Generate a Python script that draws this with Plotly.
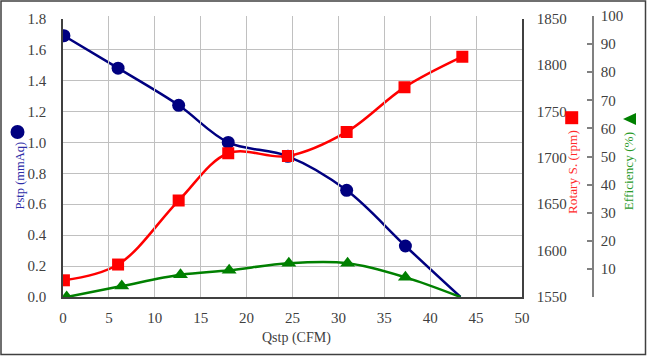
import plotly.graph_objects as go

# ---- data ----
q_pstp = [0.1, 6.0, 12.6, 18.0, 24.5, 30.9, 37.3, 43.3]
pstp = [1.69, 1.48, 1.24, 1.00, 0.91, 0.69, 0.33, 0.0]

q_rpm = [0.1, 6.0, 12.6, 18.0, 24.5, 30.9, 37.2, 43.5]
rpm = [1568, 1585, 1654, 1705, 1702, 1728, 1776, 1809]

q_eff = [0.4, 6.4, 12.8, 18.1, 24.6, 31.0, 37.3, 43.3]
eff = [0.0, 3.9, 7.9, 9.5, 12.0, 12.0, 7.0, 0.0]

x_ticks = [0, 5, 10, 15, 20, 25, 30, 35, 40, 45, 50]
pstp_ticks = [0.0, 0.2, 0.4, 0.6, 0.8, 1.0, 1.2, 1.4, 1.6, 1.8]
rpm_ticks = [1550, 1600, 1650, 1700, 1750, 1800, 1850]
eff_ticks = [0, 10, 20, 30, 40, 50, 60, 70, 80, 90, 100]
eff_ticktext = ["", "10", "20", "30", "40", "50", "60", "70", "80", "90", "100"]

x_title = "Qstp (CFM)"
pstp_title = "Pstp (mmAq)"
rpm_title = "Rotary S. (rpm)"
eff_title = "Efficiency (%)"

# ---- layout geometry (pixels) ----
W, H = 647, 356
ML, MR, MT, MB = 63, 47, 16, 59
PW = W - ML - MR
PH = H - MT - MB
PLOT_RIGHT = 522
PLOT_TOP = 18.7
EFF_X = 593

def px_x(p):
    return (p - ML) / PW

def px_y(p):
    return (H - MB - p) / PH

FONT = "Liberation Serif"
TICK_COLOR = "#404040"
NAVY = "#000080"
RED = "#ff0000"
GREEN = "#008000"

def hide_last(n, size):
    return [size] * (n - 1) + [0]

fig = go.Figure()
fig.add_trace(go.Scatter(
    x=q_pstp, y=pstp, mode="lines+markers", line=dict(color=NAVY, width=2.5, shape="spline"),
    marker=dict(symbol="circle", size=hide_last(len(pstp), 13), color=NAVY, opacity=1,
                line=dict(width=0)),
    xaxis="x", yaxis="y", showlegend=False, hoverinfo="skip"))
fig.add_trace(go.Scatter(
    x=q_rpm, y=rpm, mode="lines+markers", line=dict(color=RED, width=2.5, shape="spline"),
    marker=dict(symbol="square", size=12, color=RED, opacity=1, line=dict(width=0)),
    xaxis="x", yaxis="y2", showlegend=False, hoverinfo="skip"))
fig.add_trace(go.Scatter(
    x=q_eff, y=eff, mode="lines+markers", line=dict(color=GREEN, width=2.5, shape="spline"),
    marker=dict(symbol="triangle-up", size=hide_last(len(eff), 13), color=GREEN, opacity=1,
                line=dict(width=0)),
    xaxis="x", yaxis="y3", showlegend=False, hoverinfo="skip"))

dom_x = [0, px_x(PLOT_RIGHT)]
dom_y = [0, px_y(PLOT_TOP)]
tickfont = dict(family=FONT, size=15, color=TICK_COLOR)

fig.update_layout(
    width=W, height=H,
    margin=dict(l=ML, r=MR, t=MT, b=MB, pad=0, autoexpand=False),
    paper_bgcolor="white", plot_bgcolor="rgba(0,0,0,0)",
    font=dict(family=FONT, size=15, color=TICK_COLOR),
    xaxis=dict(domain=dom_x, range=[0, 50], tickvals=x_ticks, showgrid=True,
               gridcolor="#c0c0c0", gridwidth=1, showline=True, linecolor=TICK_COLOR,
               linewidth=1.5, zeroline=False, ticks="", tickfont=tickfont,
               ticklabelstandoff=6, anchor="y", automargin=False),
    yaxis=dict(domain=dom_y, range=[0, 1.8], tickvals=pstp_ticks, tickformat=".1f",
               showgrid=True, gridcolor="#c0c0c0", gridwidth=1, showline=True,
               linecolor=TICK_COLOR, linewidth=1.5, zeroline=False, ticks="",
               tickfont=tickfont, ticklabelstandoff=12, anchor="x", automargin=False),
    yaxis2=dict(domain=dom_y, range=[1550, 1850], tickvals=rpm_ticks, overlaying="y",
                side="right", anchor="x", showgrid=False, showline=True,
                linecolor=TICK_COLOR, linewidth=1.5, zeroline=False, ticks="",
                tickfont=tickfont, ticklabelstandoff=10, automargin=False),
    yaxis3=dict(domain=[0, 1], range=[0, 100], tickvals=eff_ticks, ticktext=eff_ticktext,
                side="right", anchor="free", position=px_x(EFF_X), showgrid=False,
                showline=True, linecolor="#808080", linewidth=1.5, zeroline=False,
                ticks="inside", ticklen=5, tickcolor="#808080", tickwidth=1.5,
                tickfont=tickfont, ticklabelstandoff=4, automargin=False),
)

# axis titles
TS = 13.3
fig.add_annotation(text=x_title, xref="paper", yref="paper", x=px_x(296.7), y=px_y(337.7),
                   showarrow=False, xanchor="center", yanchor="middle",
                   font=dict(family=FONT, size=14, color=TICK_COLOR))
fig.add_annotation(text=pstp_title, xref="paper", yref="paper", x=px_x(19), y=px_y(175.5),
                   textangle=-90, showarrow=False, xanchor="center", yanchor="middle",
                   font=dict(family=FONT, size=12.5, color="#2e2ea8"))
fig.add_annotation(text=rpm_title, xref="paper", yref="paper", x=px_x(572), y=px_y(172),
                   textangle=-90, showarrow=False, xanchor="center", yanchor="middle",
                   font=dict(family=FONT, size=TS, color="#ff2a2a"))
fig.add_annotation(text=eff_title, xref="paper", yref="paper", x=px_x(628.3), y=px_y(171),
                   textangle=-90, showarrow=False, xanchor="center", yanchor="middle",
                   font=dict(family=FONT, size=TS, color="#2a9a2a"))

# title symbols
fig.add_shape(type="circle", xref="paper", yref="paper", xsizemode="pixel", ysizemode="pixel",
              xanchor=px_x(17.5), yanchor=px_y(132), x0=-7, x1=7, y0=-7, y1=7,
              fillcolor=NAVY, line=dict(width=0))
fig.add_shape(type="rect", xref="paper", yref="paper", xsizemode="pixel", ysizemode="pixel",
              xanchor=px_x(571.7), yanchor=px_y(117.7), x0=-6.5, x1=6.5, y0=-6.5, y1=6.5,
              fillcolor=RED, line=dict(width=0))
fig.add_shape(type="path", xref="paper", yref="paper", xsizemode="pixel", ysizemode="pixel",
              xanchor=px_x(629.5), yanchor=px_y(119), path="M -6.5 0 L 6.5 6 L 6.5 -6 Z",
              fillcolor=GREEN, line=dict(width=0))

# outer chart frame
fig.add_shape(type="rect", xref="paper", yref="paper",
              x0=px_x(1), x1=px_x(645.5), y0=px_y(354.5), y1=px_y(1),
              line=dict(color="#404040", width=1.5), fillcolor="rgba(0,0,0,0)", layer="above")

fig.write_html("out.html", config={"displayModeBar": False},
               post_script="document.body.style.margin='0';document.body.style.padding='0';")
